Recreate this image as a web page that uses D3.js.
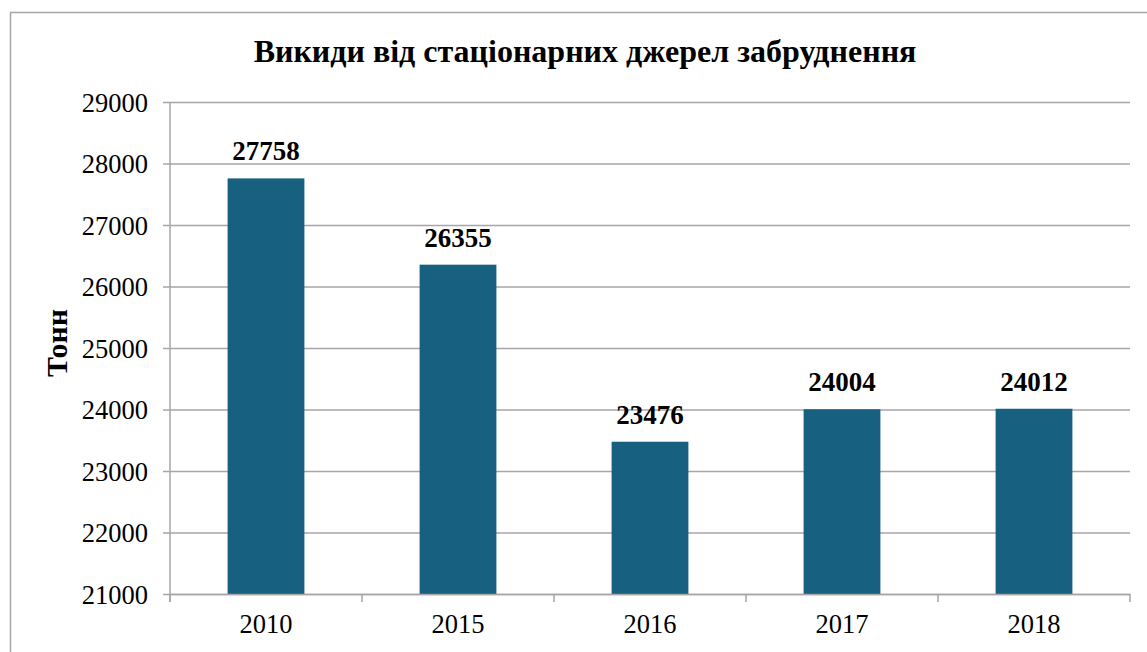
<!DOCTYPE html>
<html lang="uk">
<head>
  <meta charset="UTF-8">
  <title>Викиди</title>
  <script src="https://d3js.org/d3.v7.min.js"></script>
  <style>
    body { margin: 0; background: #fff; }
  </style>
</head>
<body>
<div class="main"></div>
<script>
  // data
  const years = ["2010", "2015", "2016", "2017", "2018"];
  const values = [27758, 26355, 23476, 24004, 24012];
  const yTicks = [21000, 22000, 23000, 24000, 25000, 26000, 27000, 28000, 29000];
  const chartTitle = "Викиди від стаціонарних джерел забруднення";
  const yTitle = "Тонн";

  const width = 1147, height = 652;
  const plotLeft = 170, plotRight = 1130, plotTop = 102, plotBottom = 594;
  const barColor = "#17607f", gridColor = "#a6a6a6";
  const serif = "'Liberation Serif', 'Times New Roman', serif";

  const svg = d3.select(".main").append("svg")
    .attr("width", width)
    .attr("height", height)
    .attr("font-family", serif)
    .style("display", "block");

  // outer chart border (runs off the picture right and bottom)
  svg.append("rect")
    .attr("x", 10.5).attr("y", 12.5)
    .attr("width", width + 20).attr("height", height + 20)
    .attr("fill", "none").attr("stroke", "#a6a6a6").attr("stroke-width", 1.5);

  const xScale = d3.scaleBand().domain(years).range([plotLeft, plotRight]).paddingInner(0).paddingOuter(0);
  const yScale = d3.scaleLinear().domain([21000, 29000]).range([plotBottom, plotTop]);

  // gridlines + y ticks
  const yAxis = d3.axisLeft(yScale)
    .tickValues(yTicks)
    .tickSize(-(plotRight - plotLeft))
    .tickPadding(22)
    .tickFormat(d3.format("d"));
  const gy = svg.append("g").attr("transform", `translate(${plotLeft},0)`).call(yAxis)
    .attr("font-family", serif);
  gy.select(".domain").remove();
  gy.selectAll(".tick line").attr("x1", -7).attr("stroke", gridColor).attr("stroke-width", 1.5);
  gy.selectAll(".tick text").attr("fill", "#000").style("font-family", serif)
    .style("font-size", "26.5px").attr("dy", "0.34em");

  // y axis line
  svg.append("line")
    .attr("x1", plotLeft).attr("x2", plotLeft).attr("y1", plotTop).attr("y2", plotBottom + 8)
    .attr("stroke", gridColor).attr("stroke-width", 1.5);

  // bars
  const bw = xScale.bandwidth() * 0.4;
  svg.append("g").selectAll("rect")
    .data(values)
    .join("rect")
    .attr("x", (d, i) => xScale(years[i]) + (xScale.bandwidth() - bw) / 2)
    .attr("y", d => yScale(d))
    .attr("width", bw)
    .attr("height", d => plotBottom - yScale(d))
    .attr("fill", barColor);

  // x axis
  const xAxis = d3.axisBottom(xScale).tickSize(0).tickPadding(20);
  const gx = svg.append("g").attr("transform", `translate(0,${plotBottom})`).call(xAxis)
    .attr("font-family", serif);
  gx.select(".domain").attr("stroke", gridColor).attr("stroke-width", 1.5);
  gx.selectAll(".tick text").attr("fill", "#000").style("font-family", serif)
    .style("font-size", "26.5px").attr("dy", "0.71em");
  // ticks between categories
  const bounds = years.map(y => xScale(y)).concat([plotRight]);
  svg.append("g").selectAll("line")
    .data(bounds)
    .join("line")
    .attr("x1", d => d).attr("x2", d => d)
    .attr("y1", plotBottom).attr("y2", plotBottom + 8)
    .attr("stroke", gridColor).attr("stroke-width", 1.5);

  // value labels
  svg.append("g").selectAll("text")
    .data(values)
    .join("text")
    .attr("x", (d, i) => xScale(years[i]) + xScale.bandwidth() / 2)
    .attr("y", d => yScale(d) - 18)
    .attr("text-anchor", "middle")
    .style("font-family", serif)
    .style("font-size", "27px")
    .style("font-weight", "bold")
    .text(d => d);

  // title
  svg.append("text")
    .attr("x", 585).attr("y", 62)
    .attr("text-anchor", "middle")
    .style("font-family", serif)
    .style("font-size", "32px")
    .style("font-weight", "bold")
    .text(chartTitle);

  // y title
  svg.append("text")
    .attr("transform", "translate(67,343) rotate(-90)")
    .attr("text-anchor", "middle")
    .style("font-family", serif)
    .style("font-size", "30px")
    .style("font-weight", "bold")
    .text(yTitle);
</script>
</body>
</html>
